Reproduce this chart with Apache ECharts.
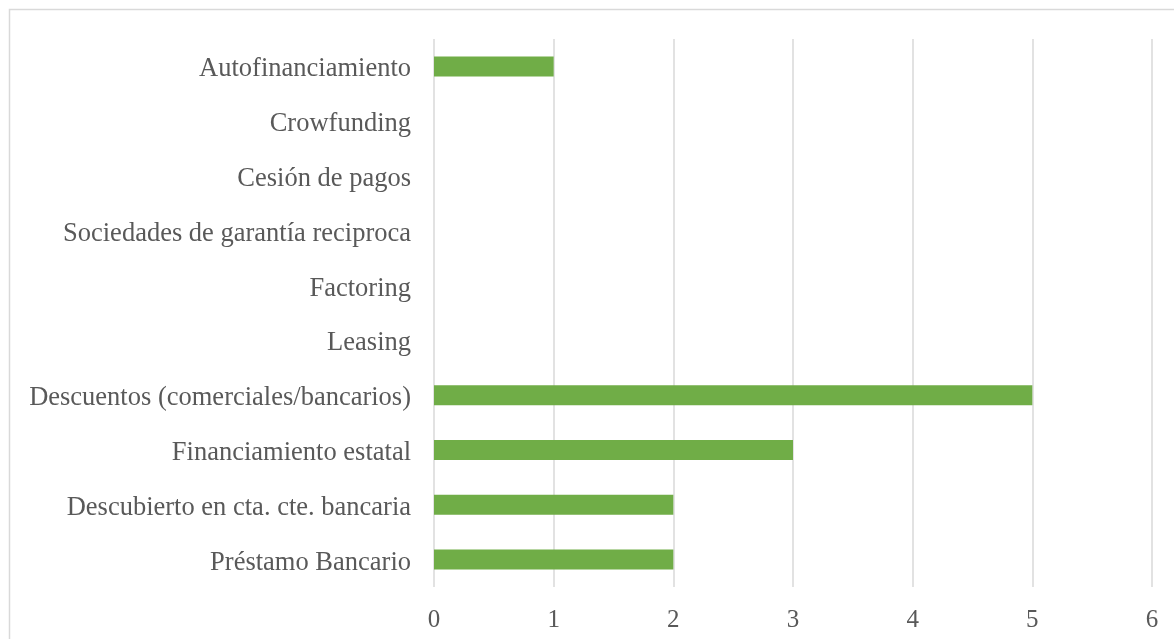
<!DOCTYPE html>
<html>
<head>
<meta charset="utf-8">
<script src="https://cdn.jsdelivr.net/npm/echarts@6/dist/echarts.min.js"></script>
<style>html,body{margin:0;padding:0;background:#fff}#c{width:1174px;height:639px}</style>
</head>
<body>
<div id="c"></div>
<script>
const categories = ["Préstamo Bancario","Descubierto en cta. cte. bancaria","Financiamiento estatal","Descuentos (comerciales/bancarios)","Leasing","Factoring","Sociedades de garantía reciproca","Cesión de pagos","Crowfunding","Autofinanciamiento"];
const values = [2,2,3,5,0,0,0,0,0,1];
const xTicks = [0,1,2,3,4,5,6];

const chart = echarts.init(document.getElementById('c'));
const font = "'Liberation Serif','Times New Roman',serif";
chart.setOption({
  animation:false,
  graphic:[{type:'rect',shape:{x:9.5,y:9.5,width:1170,height:640},style:{fill:'none',stroke:'#d9d9d9',lineWidth:1.5},silent:true}],
  grid:{left:434,right:22,top:39,bottom:52,containLabel:false},
  xAxis:{type:'value',min:xTicks[0],max:xTicks[xTicks.length-1],interval:1,
    axisLine:{show:false},axisTick:{show:false},
    splitLine:{show:true,lineStyle:{color:'#d9d9d9',width:1.5}},
    axisLabel:{color:'#595959',fontFamily:font,fontSize:25,margin:21}},
  yAxis:{type:'category',data:categories,
    axisLine:{show:false},axisTick:{show:false},
    axisLabel:{color:'#595959',fontFamily:font,fontSize:26.5,margin:23,
      formatter:function(v){return '{a|'+v+'}';},
      rich:{a:{color:'#595959',fontFamily:font,fontSize:26.5,padding:[6,0,0,0]}}}},
  series:[{type:'bar',data:values,barWidth:20,itemStyle:{color:'#70ad47'}}]
});
</script>
</body>
</html>
